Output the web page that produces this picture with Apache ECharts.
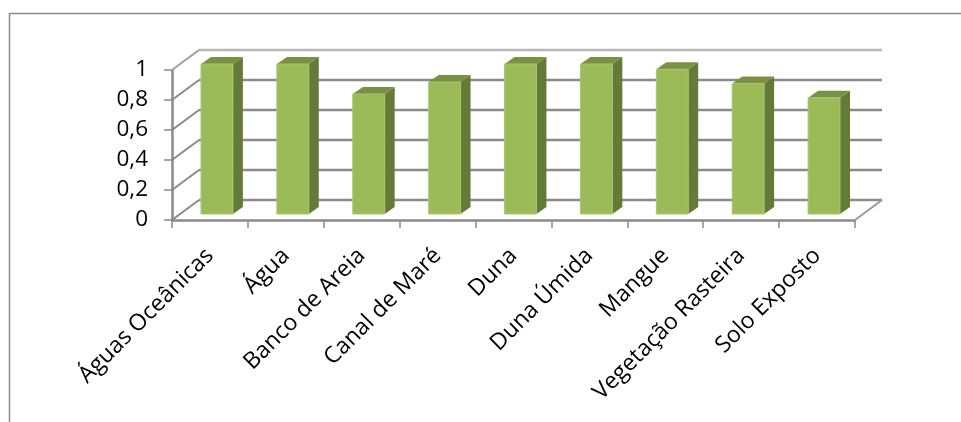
<!DOCTYPE html>
<html>
<head>
<meta charset="utf-8">
<style>html,body{margin:0;padding:0;background:#fff}#c{width:961px;height:422px}</style>
<script src="https://cdn.jsdelivr.net/npm/echarts@6/dist/echarts.min.js"></script>
</head>
<body>
<div id="c"></div>
<script>
const categories = ['Águas Oceânicas','Água','Banco de Areia','Canal de Maré','Duna','Duna Úmida','Mangue','Vegetação Rasteira','Solo Exposto'];
const values = [1, 1, 0.8, 0.88, 1, 1, 0.965, 0.87, 0.775];
const gridValues = [0, 0.2, 0.4, 0.6, 0.8, 1];

const wallDx = 27, wallDy = 20;   // projected depth of the back wall
const barInDx = 7, barInDy = 6;   // bar front face sits a little behind the front plane
const barDx = 10, barDy = 7;      // projected depth of a bar

const chart = echarts.init(document.getElementById('c'), null, {renderer:'canvas'});

function renderGrid(params, api) {
  const v = api.value(0);
  const p = api.coord([0, v]);
  const x0 = params.coordSys.x, x1 = x0 + params.coordSys.width, y = p[1];
  const isTop = v === 1;
  const color = isTop ? '#b8b8b8' : '#8a8a8a';
  const kids = [
    {type:'line', shape:{x1:x0+wallDx, y1:y-wallDy, x2:x1+wallDx, y2:y-wallDy}, style:{stroke:color, lineWidth:2.5}},
    {type:'line', shape:{x1:x0, y1:y, x2:x0+wallDx, y2:y-wallDy}, style:{stroke:isTop?'#a0a0a0':'#8a8a8a', lineWidth:2}}
  ];
  if (v === 0) {
    kids.push({type:'line', shape:{x1:x1, y1:y, x2:x1+wallDx, y2:y-wallDy}, style:{stroke:'#9a9a9a', lineWidth:2}});
  }
  return {type:'group', children:kids};
}

function renderBar(params, api) {
  const c = api.value(0), v = api.value(1);
  const top = api.coord([c, v]), base = api.coord([c, 0]);
  const w = api.size([1, 0])[0] * 0.42;
  const l = top[0] - w / 2 + barInDx, r = l + w;
  const t = top[1] - barInDy, b = base[1] - barInDy;
  return {type:'group', children:[
    {type:'polygon', shape:{points:[[r,t],[r+barDx,t-barDy],[r+barDx,b-barDy],[r,b]]}, style:{fill:'#657A38'}},
    {type:'polygon', shape:{points:[[l,t],[l+barDx,t-barDy],[r+barDx,t-barDy],[r,t]]}, style:{fill:'#7A9143'}},
    {type:'rect', shape:{x:l, y:t, width:w, height:b-t}, style:{fill:'#9BBB59', stroke:'#A9C570', lineWidth:1}}
  ]};
}

chart.setOption({
  animation:false,
  backgroundColor:'#fff',
  textStyle:{fontFamily:'"Open Sans", sans-serif'},
  graphic:[{type:'polyline', silent:true, z:0,
    shape:{points:[[9.5,422],[9.5,13.5],[961,13.5]]},
    style:{stroke:'#8c8c8c', lineWidth:1.5, fill:'none'}}],
  grid:{left:172, right:106, top:70, bottom:202, containLabel:false},
  xAxis:{type:'category', data:categories, boundaryGap:true,
    axisLine:{show:true, lineStyle:{color:'#8a8a8a', width:2.5}},
    axisTick:{show:true, alignWithLabel:false, length:8, lineStyle:{color:'#8a8a8a', width:1.5}},
    axisLabel:{interval:0, rotate:45, fontSize:23, color:'#000', margin:32, fontFamily:'"Open Sans", sans-serif'},
    splitLine:{show:false}},
  yAxis:{type:'value', min:0, max:1, interval:0.2,
    axisLine:{show:true, lineStyle:{color:'#8a8a8a', width:2.5}},
    axisTick:{show:true, length:8, lineStyle:{color:'#8a8a8a', width:1.5}},
    axisLabel:{fontSize:22.5, color:'#000', margin:24, padding:[4,0,0,0], fontFamily:'"Open Sans", sans-serif',
      formatter:function(v){return String(v).replace('.',',');}},
    splitLine:{show:false}},
  series:[
    {type:'custom', renderItem:renderGrid, data:gridValues.map(v=>[v]), encode:{y:0}, z:1, silent:true},
    {type:'custom', renderItem:renderBar, data:values.map((v,i)=>[i,v]), encode:{x:0,y:1}, z:2, silent:true}
  ]
});
</script>
</body>
</html>
